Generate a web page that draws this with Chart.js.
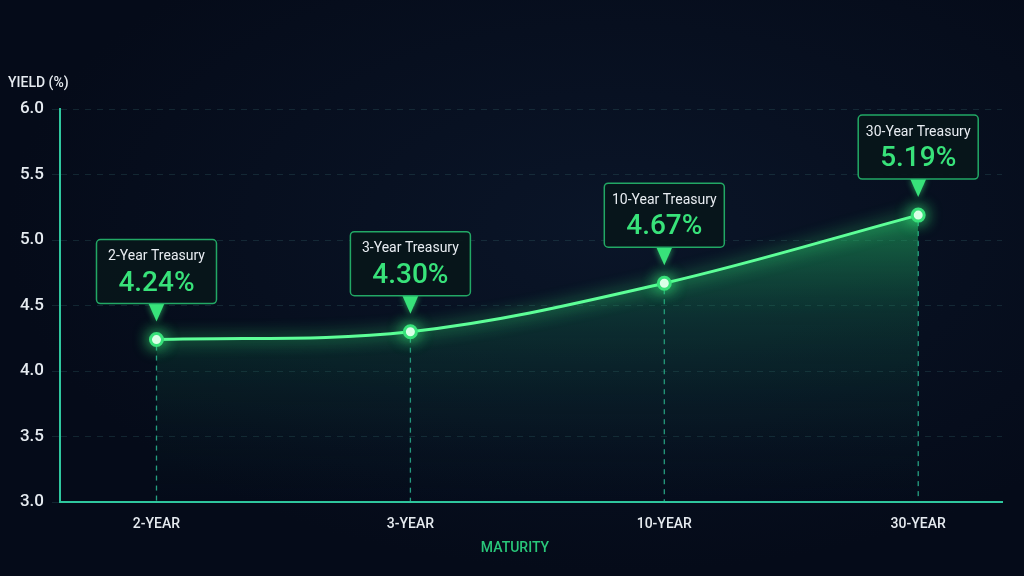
<!DOCTYPE html>
<html>
<head>
<meta charset="utf-8">
<script src="https://cdn.jsdelivr.net/npm/chart.js@4.4.0/dist/chart.umd.min.js"></script>
<style>
  html, body { margin: 0; padding: 0; background: #050b19; }
  #wrap { width: 1024px; height: 576px; position: relative;
    background: radial-gradient(ellipse at 60% 40%, #0a1528 0%, #050b19 70%); }
</style>
</head>
<body>
<div id="wrap"><canvas id="chart" width="1024" height="576"></canvas></div>
<script>
// data
const maturities = ["2-YEAR", "3-YEAR", "10-YEAR", "30-YEAR"];
const calloutTitles = ["2-Year Treasury", "3-Year Treasury", "10-Year Treasury", "30-Year Treasury"];
const yields = [4.24, 4.30, 4.67, 5.19];
const yTicks = [3.0, 3.5, 4.0, 4.5, 5.0, 5.5, 6.0];

const GREEN = "#38e27a";
const TEAL = "#2fc79e";
const FONT = "Roboto, 'Liberation Sans', sans-serif";

const overlay = {
  id: "overlay",
  beforeDatasetDraw(chart) {
    const ctx = chart.ctx;
    ctx.save();
    ctx.shadowColor = "rgba(60,255,130,0.9)";
    ctx.shadowBlur = 16;
  },
  afterDatasetDraw(chart) {
    chart.ctx.restore();
  },
  beforeDatasetsDraw(chart) {
    // dashed drop lines
    const { ctx, scales: { x, y } } = chart;
    ctx.save();
    ctx.strokeStyle = "rgba(47,199,158,0.8)";
    ctx.lineWidth = 1.3;
    ctx.setLineDash([5, 5]);
    yields.forEach((v, i) => {
      const px = x.getPixelForValue(i);
      ctx.beginPath();
      ctx.moveTo(px, y.getPixelForValue(v) + 6);
      ctx.lineTo(px, y.bottom);
      ctx.stroke();
    });
    ctx.restore();
  },
  afterDraw(chart) {
    const { ctx, scales: { x, y } } = chart;
    ctx.save();
    // axis titles
    ctx.fillStyle = "#e6ebf0";
    ctx.font = "500 14px " + FONT;
    ctx.textAlign = "left";
    ctx.textBaseline = "middle";
    ctx.fillText("YIELD (%)", 8, 83);
    ctx.fillStyle = "#29c77a";
    ctx.font = "500 14px " + FONT;
    ctx.textAlign = "center";
    ctx.fillText("MATURITY", 515, 548);

    // callouts
    yields.forEach((v, i) => {
      const px = x.getPixelForValue(i);
      const py = y.getPixelForValue(v);
      const w = 120, h = 64;
      const bx = px - w / 2, by = py - 36 - h;
      ctx.fillStyle = GREEN;
      ctx.shadowColor = "rgba(60,255,130,0.6)";
      ctx.shadowBlur = 6;
      ctx.beginPath();
      ctx.moveTo(px - 8, by + h);
      ctx.lineTo(px + 8, by + h);
      ctx.lineTo(px, py - 18);
      ctx.closePath();
      ctx.fill();
      ctx.shadowBlur = 0;
      ctx.fillStyle = "rgba(8,22,26,0.92)";
      ctx.strokeStyle = "#22a865";
      ctx.lineWidth = 1.5;
      ctx.beginPath();
      ctx.roundRect(bx, by, w, h, 4);
      ctx.fill();
      ctx.stroke();
      ctx.fillStyle = "#e8edf2";
      ctx.font = "14px " + FONT;
      ctx.textAlign = "center";
      ctx.fillText(calloutTitles[i], px, by + 17);
      ctx.fillStyle = GREEN;
      ctx.font = "500 28px " + FONT;
      ctx.fillText(v.toFixed(2) + "%", px, by + 44);
    });
    ctx.restore();
  }
};

new Chart(document.getElementById("chart"), {
  type: "line",
  data: {
    datasets: [{
      data: yields.map((v, i) => ({ x: i, y: v })),
      borderColor: "#5dff98",
      borderWidth: 3,
      tension: 0.35,
      pointRadius: 6,
      pointBackgroundColor: "#ffffff",
      pointBorderColor: GREEN,
      pointBorderWidth: 3,
      fill: "start",
      backgroundColor(c) {
        const area = c.chart.chartArea;
        if (!area) return "rgba(40,200,110,0.2)";
        const g = c.chart.ctx.createLinearGradient(0, area.top + 80, 0, area.bottom);
        g.addColorStop(0, "rgba(40,210,110,0.6)");
        g.addColorStop(0.4, "rgba(25,140,90,0.25)");
        g.addColorStop(1, "rgba(10,40,50,0.02)");
        return g;
      }
    }]
  },
  options: {
    responsive: false,
    animation: false,
    layout: { padding: { top: 109, right: 22, left: 0, bottom: 0 } },
    plugins: { legend: { display: false }, tooltip: { enabled: false } },
    scales: {
      x: {
        type: "linear",
        min: -0.38,
        max: 3.33,
        afterBuildTicks(scale) {
          scale.ticks = maturities.map((_, i) => ({ value: i }));
        },
        afterFit(scale) { scale.height = 74; },
        ticks: {
          callback: (v) => maturities[v],
          color: "#e6ebf0",
          font: { family: FONT, size: 14, weight: "500" },
          padding: 6,
          maxRotation: 0,
          autoSkip: false
        },
        grid: { display: false },
        border: { display: true, color: TEAL, width: 2 }
      },
      y: {
        min: 3,
        max: 6,
        afterBuildTicks(scale) {
          scale.ticks = yTicks.map((v) => ({ value: v }));
        },
        afterFit(scale) { scale.width = 60; },
        ticks: {
          callback: (v) => v.toFixed(1),
          color: "#e6ebf0",
          font: { family: FONT, size: 17, weight: "500" },
          padding: 8
        },
        grid: { color: "rgba(70,130,130,0.22)", lineWidth: 1, tickLength: 8 },
        border: { display: true, color: TEAL, width: 2, dash: [6, 6] }
      }
    }
  },
  plugins: [overlay]
});
</script>
</body>
</html>
